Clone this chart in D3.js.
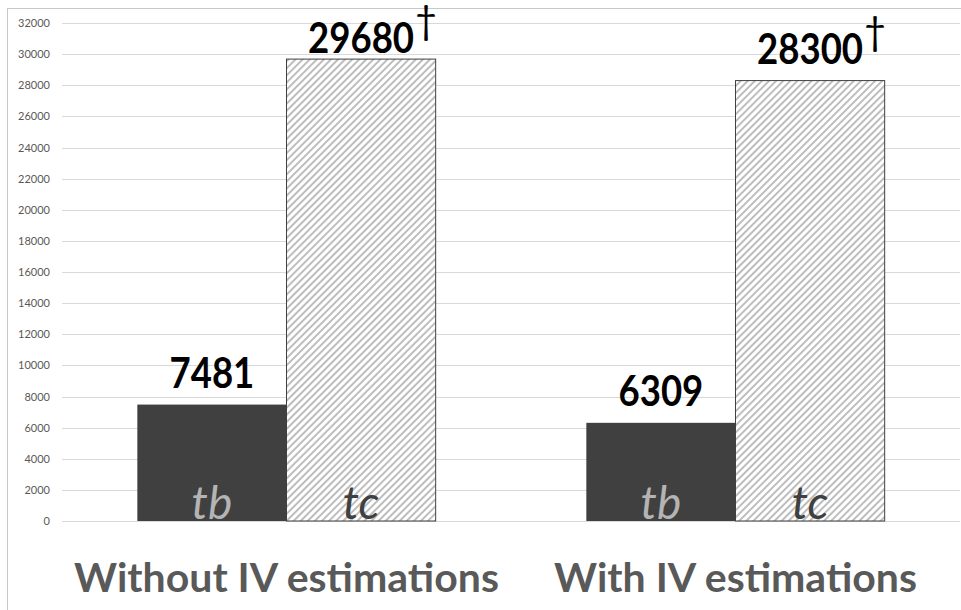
<!DOCTYPE html>
<html>
<head>
  <meta charset="utf-8">
  <title>tb vs tc</title>
  <script src="https://d3js.org/d3.v7.min.js"></script>
  <style>
    body { margin: 0; background: #fff; }
  </style>
</head>
<body>
  <svg id="chart" width="961" height="610"></svg>

  <script>
    // data
    const groups = ["Without IV estimations", "With IV estimations"];
    const seriesNames = ["tb", "tc"];
    const tbValues = [7481, 6309];
    const tcValues = [29680, 28300];
    const labelMarks = ["", "†"]; // tc values carry a dagger
    const yTicks = d3.range(0, 32001, 2000);

    const width = 961, height = 610;
    const margin = { top: 23, right: 1, bottom: 89, left: 62 };
    const font = "Lato, 'Open Sans', sans-serif";
    const squeeze = 0.87; // Lato digits are wider than the original Calibri

    const svg = d3.select("#chart");

    // hatch for tc bars
    const defs = svg.append("defs");
    const pat = defs.append("pattern")
      .attr("id", "hatch")
      .attr("patternUnits", "userSpaceOnUse")
      .attr("width", 5)
      .attr("height", 5)
      .attr("patternTransform", "rotate(45)");
    pat.append("rect").attr("width", 5).attr("height", 5).attr("fill", "#fff");
    pat.append("line")
      .attr("x1", 1).attr("y1", 0).attr("x2", 1).attr("y2", 5)
      .attr("stroke", "#bdbdbd").attr("stroke-width", 2);

    // chart frame
    svg.append("rect")
      .attr("x", 7.5).attr("y", 8.5)
      .attr("width", 1000).attr("height", 700)
      .attr("fill", "none")
      .attr("stroke", "#c8c8c8");

    const x0 = d3.scaleBand()
      .domain(groups)
      .range([margin.left, width - margin.right])
      .paddingInner(0)
      .paddingOuter(0);

    const x1 = d3.scaleBand()
      .domain(seriesNames)
      .range([0, x0.bandwidth()])
      .paddingInner(0)
      .paddingOuter(0.505);

    const y = d3.scaleLinear()
      .domain([0, 32000])
      .range([height - margin.bottom, margin.top]);

    // gridlines
    svg.append("g")
      .selectAll("line")
      .data(yTicks)
      .join("line")
      .attr("x1", margin.left)
      .attr("x2", width - margin.right)
      .attr("y1", d => Math.round(y(d)) + 0.5)
      .attr("y2", d => Math.round(y(d)) + 0.5)
      .attr("stroke", "#d9d9d9")
      .attr("stroke-width", 1);

    // y axis labels
    const yAxis = svg.append("g")
      .attr("transform", `translate(${margin.left - 12},0)`)
      .call(d3.axisLeft(y).tickValues(yTicks).tickSize(0).tickPadding(0).tickFormat(d3.format("d")));
    yAxis.select(".domain").remove();
    yAxis.selectAll("text")
      .attr("fill", "#595959")
      .style("font-family", font)
      .style("font-size", "11px");

    const rows = groups.map((g, i) => [
      { group: g, key: "tb", value: tbValues[i], mark: labelMarks[0] },
      { group: g, key: "tc", value: tcValues[i], mark: labelMarks[1] }
    ]).flat();

    const bars = svg.append("g");
    bars.selectAll("rect")
      .data(rows)
      .join("rect")
      .attr("x", d => x0(d.group) + x1(d.key))
      .attr("y", d => y(d.value))
      .attr("width", x1.bandwidth())
      .attr("height", d => y(0) - y(d.value))
      .attr("fill", d => d.key === "tb" ? "#404040" : "url(#hatch)")
      .attr("stroke", d => d.key === "tb" ? "none" : "#404040")
      .attr("stroke-width", 1);

    // series name inside bars
    svg.append("g").selectAll("text")
      .data(rows)
      .join("text")
      .attr("x", d => x0(d.group) + x1(d.key) + x1.bandwidth() / 2)
      .attr("y", y(0) - 2)
      .attr("text-anchor", "middle")
      .attr("fill", d => d.key === "tb" ? "#b4b4b4" : "#404040")
      .style("font-family", font)
      .style("font-style", "italic")
      .style("font-size", "46px")
      .text(d => d.key);

    // value labels, kept inside plot area
    const capH = 30;
    const labels = svg.append("g");
    labels.selectAll("text")
      .data(rows)
      .join("text")
      .attr("x", d => x0(d.group) + x1(d.key) + x1.bandwidth() / 2)
      .attr("y", d => Math.max(y(d.value) - 17, margin.top + capH))
      .attr("text-anchor", "middle")
      .attr("fill", "#000")
      .style("font-family", font)
      .style("font-weight", "bold")
      .style("font-size", "42px")
      .text(d => d.value)
      .each(function (d) {
        const sel = d3.select(this);
        const tl = this.getComputedTextLength() * squeeze;
        sel.attr("textLength", tl).attr("lengthAdjust", "spacingAndGlyphs");
        if (!d.mark) return;
        labels.append("text")
          .attr("x", +sel.attr("x") + tl / 2 + 1)
          .attr("y", +sel.attr("y") - 19)
          .attr("fill", "#000")
          .style("font-family", font)
          .style("font-size", "38px")
          .text(d.mark);
      });

    // group labels
    svg.append("g").selectAll("text")
      .data(groups)
      .join("text")
      .attr("x", d => x0(d) + x0.bandwidth() / 2)
      .attr("y", 592)
      .attr("text-anchor", "middle")
      .attr("fill", "#595959")
      .style("font-family", font)
      .style("font-weight", "bold")
      .style("font-size", "41px")
      .text(d => d);
  </script>
</body>
</html>
